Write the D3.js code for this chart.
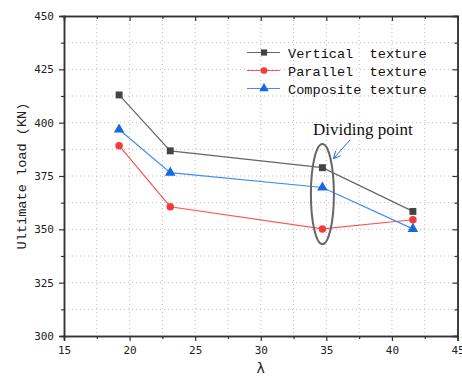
<!DOCTYPE html>
<html><head><meta charset="utf-8">
<script src="https://cdn.jsdelivr.net/npm/d3@7"></script>
<style>body{margin:0;background:#fff}</style>
</head><body><svg id="c" width="462" height="379"></svg>
<script>
const lambda = [19.2, 23.1, 34.7, 41.6];
const verticalTexture = [413, 386.8, 378.9, 358.4];
const parallelTexture = [389.2, 360.6, 350.2, 354.5];
const compositeTexture = [396.8, 376.6, 369.6, 350.2];
const seriesNames = ["Vertical  texture", "Parallel  texture", "Composite texture"];
const xTicks = [15, 20, 25, 30, 35, 40, 45];
const yTicks = [300, 325, 350, 375, 400, 425, 450];
const dividing = {x: 34.7, yLow: 343, yHigh: 390};

const svg = d3.select("#c");
const L = 64, R = 457.5, T = 16, B = 336;
const x = d3.scaleLinear().domain([15, 45]).range([L, R]);
const y = d3.scaleLinear().domain([300, 450]).range([B, T]);

// grid
const g = svg.append("g");
const xMinor = d3.range(15, 45.01, 2.5), yMinor = d3.range(300, 450.01, 12.5);
g.selectAll(".vx").data(xMinor.slice(1, -1)).join("line")
  .attr("x1", d => x(d)).attr("x2", d => x(d)).attr("y1", T).attr("y2", B)
  .attr("stroke", "#bdbdbd").attr("stroke-width", 1).attr("stroke-dasharray", "1,3");
g.selectAll(".hy").data(yMinor.slice(1, -1)).join("line")
  .attr("y1", d => y(d)).attr("y2", d => y(d)).attr("x1", L).attr("x2", R)
  .attr("stroke", "#bdbdbd").attr("stroke-width", 1).attr("stroke-dasharray", "1,3");

// axes
const font = "'DejaVu Sans Mono', monospace";
svg.append("g").attr("transform", `translate(0,${B})`)
  .call(d3.axisBottom(x).tickValues(xTicks).tickSize(5).tickPadding(5));
svg.append("g").attr("transform", `translate(${L},0)`)
  .call(d3.axisLeft(y).tickValues(yTicks).tickSize(5).tickPadding(5));
svg.append("g").attr("transform", `translate(0,${T})`)
  .call(d3.axisBottom(x).tickValues(xTicks.slice(1, -1)).tickSize(5).tickFormat(""));
svg.append("g").attr("transform", `translate(${R},0)`)
  .call(d3.axisLeft(y).tickValues(yTicks.slice(1, -1)).tickSize(5).tickFormat(""));
// minor ticks
const mx = xMinor.filter((d, i) => i % 2 === 1), my = yMinor.filter((d, i) => i % 2 === 1);
svg.append("g").attr("transform", `translate(0,${B})`).call(d3.axisBottom(x).tickValues(mx).tickSize(3).tickFormat(""));
svg.append("g").attr("transform", `translate(${L},0)`).call(d3.axisLeft(y).tickValues(my).tickSize(3).tickFormat(""));
svg.append("g").attr("transform", `translate(0,${T})`).call(d3.axisBottom(x).tickValues(mx).tickSize(3).tickFormat(""));
svg.append("g").attr("transform", `translate(${R},0)`).call(d3.axisLeft(y).tickValues(my).tickSize(3).tickFormat(""));
svg.selectAll(".domain").attr("stroke", "#333").attr("stroke-width", 1.5);
svg.selectAll(".tick line").attr("stroke", "#333").attr("stroke-width", 1.2);
svg.selectAll(".tick text").attr("font-family", font).attr("font-size", 11).attr("fill", "#222");

// series
const series = [
  {vals: verticalTexture, line: "#666666", fill: "#444444", sym: d3.symbolSquare, size: 48},
  {vals: parallelTexture, line: "#ff5555", fill: "#f43b3b", sym: d3.symbolCircle, size: 44},
  {vals: compositeTexture, line: "#3d8ef0", fill: "#1769e0", sym: d3.symbolTriangle, size: 48}
];
const line = d3.line().x(d => x(d[0])).y(d => y(d[1]));
series.forEach(s => {
  const pts = lambda.map((l, i) => [l, s.vals[i]]);
  svg.append("path").datum(pts).attr("d", line).attr("fill", "none").attr("stroke", s.line).attr("stroke-width", 1.2);
  svg.selectAll(null).data(pts).join("path")
    .attr("transform", d => `translate(${x(d[0])},${y(d[1])})`)
    .attr("d", d3.symbol().type(s.sym).size(s.size)).attr("fill", s.fill);
});

// legend
series.forEach((s, i) => {
  const yy = 52.5 + i * 18;
  svg.append("line").attr("x1", 247).attr("x2", 280).attr("y1", yy).attr("y2", yy).attr("stroke", s.line).attr("stroke-width", 1.2);
  svg.append("path").attr("transform", `translate(264,${yy})`).attr("d", d3.symbol().type(s.sym).size(s.size * 0.8)).attr("fill", s.fill);
  svg.append("text").attr("x", 288).attr("y", yy + 5).attr("font-family", "'Liberation Mono', monospace").attr("font-size", 13.6)
    .attr("fill", "#111").attr("xml:space", "preserve").style("white-space", "pre").text(seriesNames[i]);
});

// dividing point annotation
const cy = (y(dividing.yLow) + y(dividing.yHigh)) / 2;
svg.append("ellipse").attr("cx", x(dividing.x)).attr("cy", cy).attr("rx", 11.5).attr("ry", (y(dividing.yLow) - y(dividing.yHigh)) / 2)
  .attr("fill", "none").attr("stroke", "#666").attr("stroke-width", 2);
svg.append("text").attr("x", 313).attr("y", 135).attr("font-family", "'Liberation Serif', serif").attr("font-size", 17).attr("fill", "#111").text("Dividing point");
svg.append("defs").append("marker").attr("id", "ah").attr("viewBox", "0 0 10 10").attr("refX", 9).attr("refY", 5)
  .attr("markerWidth", 7).attr("markerHeight", 7).attr("orient", "auto")
  .append("path").attr("d", "M0,0 L10,5 L0,10").attr("fill", "none").attr("stroke", "#2a6fd6").attr("stroke-width", 1.5);
svg.append("line").attr("x1", 350).attr("y1", 140).attr("x2", 334).attr("y2", 158).attr("stroke", "#2a6fd6").attr("stroke-width", 1).attr("marker-end", "url(#ah)");

// axis titles
svg.append("text").attr("transform", `translate(26,${(T + B) / 2}) rotate(-90)`).attr("text-anchor", "middle")
  .attr("font-family", "'Liberation Mono', monospace").attr("font-size", 13.6).attr("fill", "#222").text("Ultimate load (KN)");
svg.append("text").attr("x", x(30)).attr("y", 373).attr("text-anchor", "middle")
  .attr("font-family", "'DejaVu Sans', sans-serif").attr("font-size", 14).attr("fill", "#222").text("λ");
</script></body></html>
